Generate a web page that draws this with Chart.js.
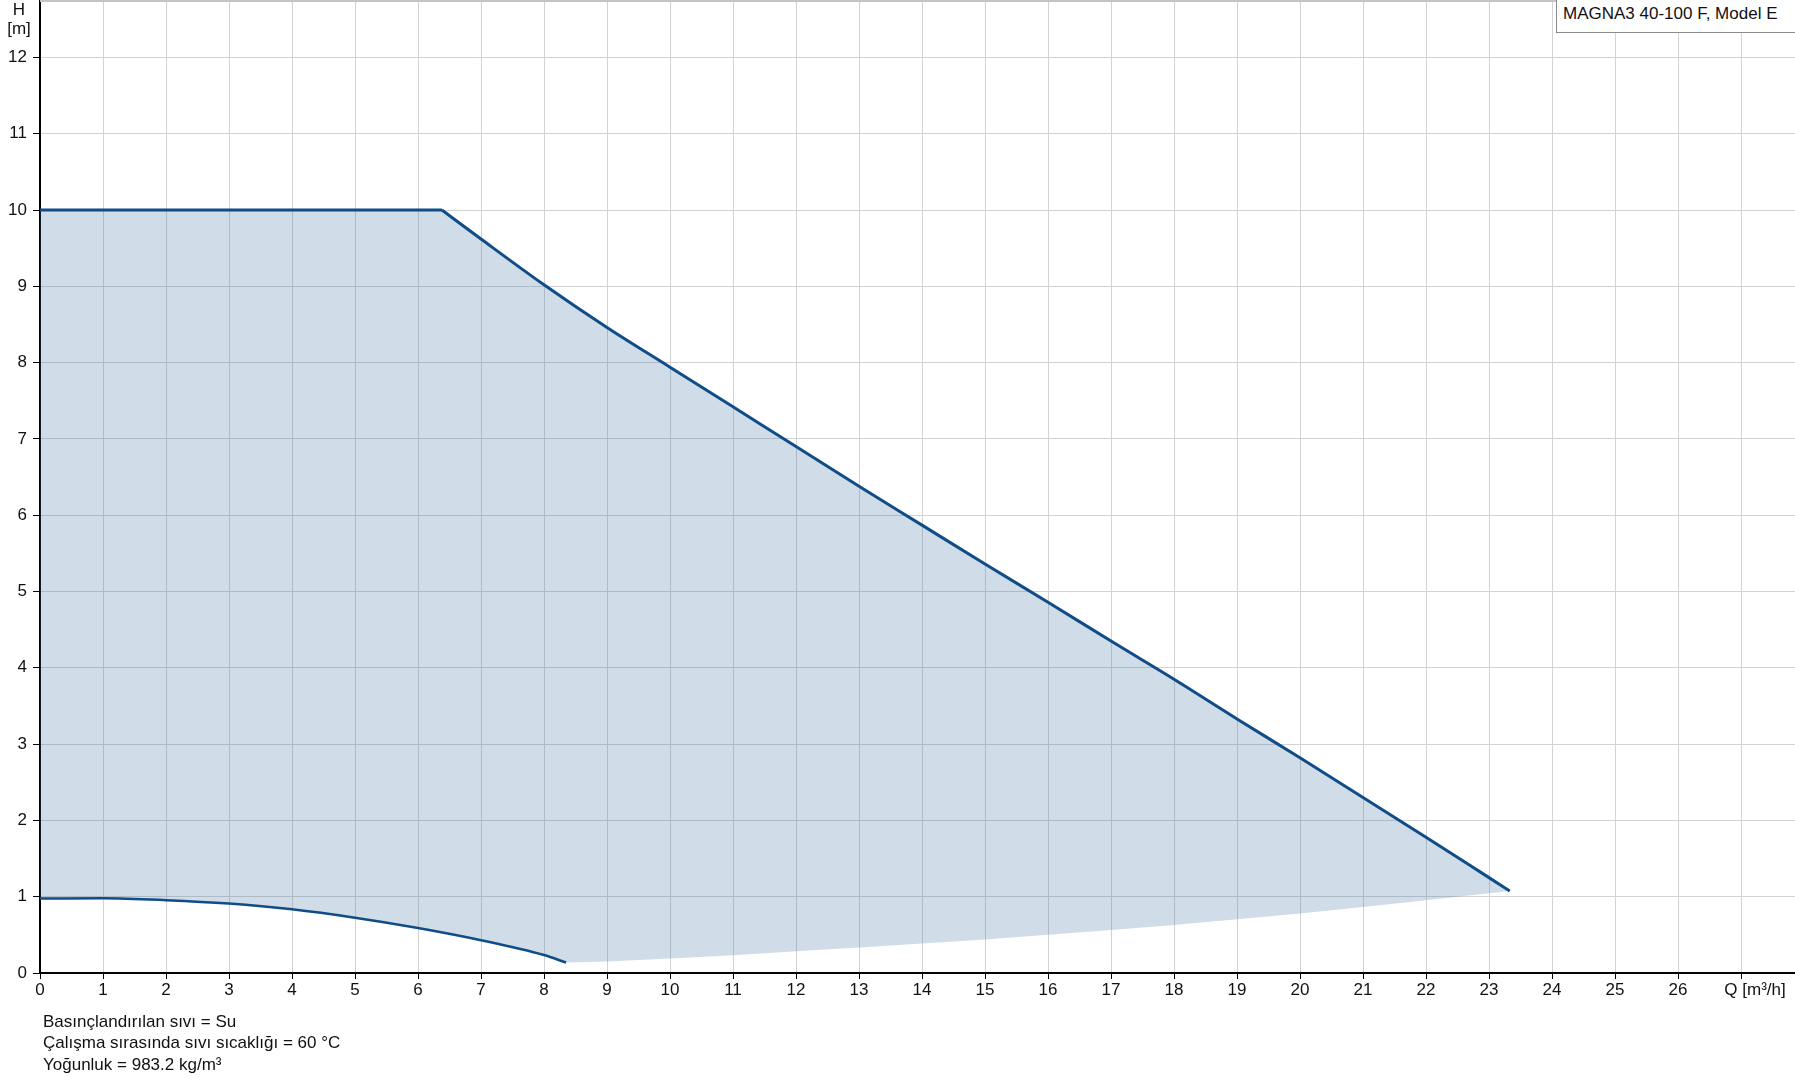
<!DOCTYPE html>
<html>

<head>
    <meta charset="utf-8">
    <script src="https://cdn.jsdelivr.net/npm/chart.js@4.4.1/dist/chart.umd.min.js"></script>
    <style>
        body { margin: 0; background: #fff; font-family: "Liberation Sans", Arial, sans-serif; }
        #kutu { position: relative; width: 1795px; height: 1081px; overflow: hidden; }
        #model {
            position: absolute; left: 1556px; top: -1px; width: 260px; height: 34px;
            box-sizing: border-box; border: 1px solid #8a8a8a; background: #fff;
            font-size: 17px; line-height: 27px; padding-left: 6px; color: #111; z-index: 2;
        }
        #notlar {
            position: absolute; left: 43px; top: 1011px; font-size: 17px; line-height: 21.3px; color: #111;
        }
    </style>
</head>

<body>
    <div id="kutu">
        <canvas id="wykres"></canvas>
        <div id="model">MAGNA3 40-100 F, Model E</div>
        <div id="notlar">
            Basınçlandırılan sıvı = Su<br>
            Çalışma sırasında sıvı sıcaklığı = 60 °C<br>
            Yoğunluk = 983.2 kg/m³
        </div>
    </div>
    <script>
        // max egri (ust): duz kisim + inen kisim
        const duzQ = [0, 6.38];
        const duzH = [10, 10];
        const ustQ = [6.38, 7, 8, 9, 10, 11, 12, 13, 14, 15, 16, 17, 18, 19, 20, 21, 22, 23, 23.33];
        const ustH = [10, 9.62, 9.02, 8.46, 7.94, 7.42, 6.9, 6.38, 5.87, 5.36, 4.86, 4.35, 3.85, 3.33, 2.82, 2.30, 1.78, 1.25, 1.075];
        // min egri (alt, cizgili kisim)
        const altQ = [0, 1, 2, 3, 4, 5, 6, 7, 8, 8.35];
        const altH = [0.975, 0.98, 0.955, 0.91, 0.835, 0.725, 0.59, 0.43, 0.235, 0.137];
        // alanin alt siniri (cizgisiz)
        const sinirQ = [8.35, 9, 10, 11, 12, 13, 14, 15, 16, 17, 18, 19, 20, 21, 22, 23, 23.33];
        const sinirH = [0.137, 0.15, 0.19, 0.232, 0.284, 0.333, 0.385, 0.44, 0.50, 0.565, 0.63, 0.705, 0.78, 0.865, 0.955, 1.045, 1.075];

        const xTickler = [0, 1, 2, 3, 4, 5, 6, 7, 8, 9, 10, 11, 12, 13, 14, 15, 16, 17, 18, 19, 20, 21, 22, 23, 24, 25, 26];
        const yTickler = [0, 1, 2, 3, 4, 5, 6, 7, 8, 9, 10, 11, 12];
        const xBaslik = "Q [m³/h]";
        const xBaslikYeri = 27;

        const mavi = "#0f4c88";
        const yazi = { family: "'Liberation Sans', Arial", size: 17 };

        function noktalar(qs, hs) {
            return qs.map((q, i) => ({ x: q, y: hs[i] }));
        }

        // kapali alan: ust egri -> sinir (ters) -> alt egri (ters)
        const alan = noktalar(duzQ, duzH)
            .concat(noktalar(ustQ, ustH).slice(1))
            .concat(noktalar(sinirQ, sinirH).reverse())
            .concat(noktalar(altQ, altH).reverse());

        const dane = {
            datasets: [
                {
                    label: "duz",
                    data: noktalar(duzQ, duzH),
                    borderColor: mavi,
                    borderWidth: 3,
                    pointRadius: 0,
                    showLine: true,
                    fill: false,
                },
                {
                    label: "ust",
                    data: noktalar(ustQ, ustH),
                    borderColor: mavi,
                    borderWidth: 3,
                    pointRadius: 0,
                    showLine: true,
                    cubicInterpolationMode: "monotone",
                    fill: false,
                },
                {
                    label: "alt",
                    data: noktalar(altQ, altH),
                    borderColor: mavi,
                    borderWidth: 2.5,
                    pointRadius: 0,
                    showLine: true,
                    cubicInterpolationMode: "monotone",
                    fill: false,
                },
                {
                    label: "alan",
                    data: alan,
                    borderWidth: 0,
                    borderColor: "rgba(0,0,0,0)",
                    backgroundColor: "rgba(67,115,163,0.25)",
                    pointRadius: 0,
                    showLine: true,
                    fill: "shape",
                }
            ]
        };

        const yazilar = {
            id: "yazilar",
            afterDraw(chart) {
                const c = chart.ctx;
                const a = chart.chartArea;
                const sx = chart.scales.x;
                c.save();
                c.strokeStyle = "#c4c4c4";
                c.lineWidth = 2;
                c.beginPath();
                c.moveTo(a.left, a.top + 1);
                c.lineTo(a.right, a.top + 1);
                c.stroke();
                c.fillStyle = "#111";
                c.font = "17px 'Liberation Sans', Arial";
                c.textAlign = "center";
                c.textBaseline = "alphabetic";
                c.fillText("H", 19, 15);
                c.fillText("[m]", 19, 34);
                // eksen basligi, son tikin biraz sagina
                c.fillText(xBaslik, sx.getPixelForValue(xBaslikYeri) + 14, 995);
                c.restore();
            }
        };

        const ctx = document.getElementById("wykres").getContext("2d");
        const wykres = new Chart(ctx, {
            type: "scatter",
            data: dane,
            plugins: [yazilar],
            options: {
                responsive: true,
                maintainAspectRatio: false,
                animation: false,
                layout: { padding: 0 },
                plugins: { legend: { display: false }, tooltip: { enabled: false } },
                scales: {
                    x: {
                        type: "linear",
                        min: 0,
                        max: 1755 / 63,
                        afterFit(s) {
                            s.height = 108;
                            s.paddingLeft = 0;
                            s.paddingRight = 0;
                        },
                        border: { color: "#000", width: 2 },
                        grid: { color: "#d2d2d2", lineWidth: 1, tickColor: "#000", tickLength: 6 },
                        ticks: {
                            stepSize: 1,
                            includeBounds: false,
                            padding: 1,
                            color: "#111",
                            font: yazi,
                            maxRotation: 0,
                            autoSkip: false,
                            callback: (v) => xTickler[v] !== undefined ? xTickler[v] : ""
                        }
                    },
                    y: {
                        type: "linear",
                        min: 0,
                        max: 973 / 76.3,
                        afterFit(s) {
                            s.width = 40;
                            s.paddingTop = 0;
                            s.paddingBottom = 0;
                        },
                        border: { color: "#000", width: 2 },
                        grid: { color: "#d2d2d2", lineWidth: 1, tickColor: "#000", tickLength: 7 },
                        ticks: {
                            stepSize: 1,
                            includeBounds: false,
                            padding: 6,
                            color: "#111",
                            font: yazi,
                            callback: (v) => yTickler[v] !== undefined ? yTickler[v] : ""
                        }
                    }
                }
            }
        });
    </script>
</body>

</html>
